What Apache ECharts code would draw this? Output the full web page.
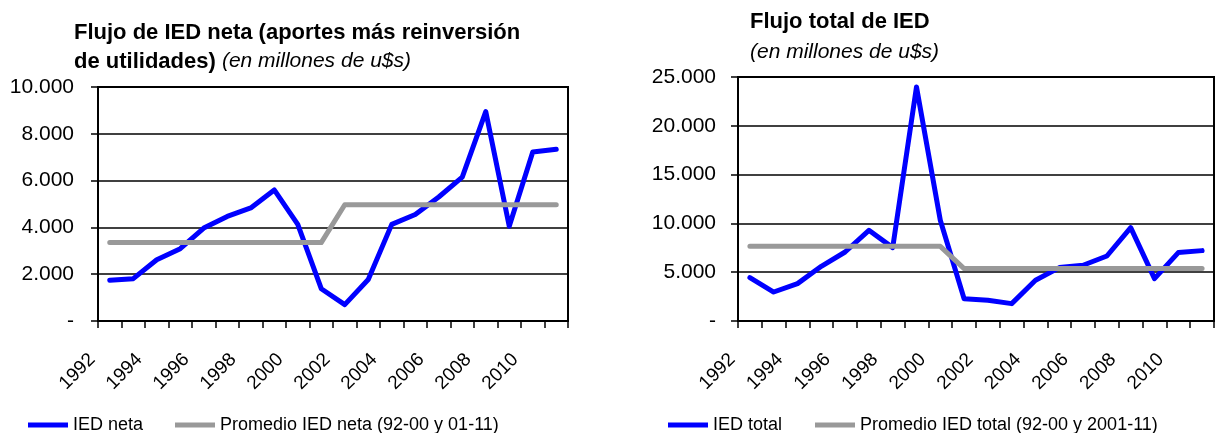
<!DOCTYPE html>
<html>
<head>
<meta charset="utf-8">
<script src="https://cdn.jsdelivr.net/npm/echarts@6/dist/echarts.min.js"></script>
<style>
  html, body { margin: 0; padding: 0; background: #fff; }
  #main { width: 1221px; height: 433px; }
</style>
</head>
<body>
<div id="main"></div>
<script>
// años (categorías) y valores, en millones de u$s
var years = ["1992", "1993", "1994", "1995", "1996", "1997", "1998", "1999", "2000", "2001",
             "2002", "2003", "2004", "2005", "2006", "2007", "2008", "2009", "2010", "2011"];
var iedNeta = [1740, 1810, 2620, 3090, 3970, 4470, 4830, 5600, 4130, 1380,
               700, 1770, 4130, 4550, 5300, 6150, 8950, 4050, 7220, 7340];
var promNeta = [3350, 3350, 3350, 3350, 3350, 3350, 3350, 3350, 3350, 3350,
                4970, 4970, 4970, 4970, 4970, 4970, 4970, 4970, 4970, 4970];
var iedTotal = [4450, 2970, 3830, 5600, 7070, 9290, 7520, 23980, 10320, 2290,
                2120, 1780, 4170, 5470, 5710, 6660, 9570, 4340, 7010, 7210];
var promTotal = [7650, 7650, 7650, 7650, 7650, 7650, 7650, 7650, 7650, 5370,
                 5370, 5370, 5370, 5370, 5370, 5370, 5370, 5370, 5370, 5370];
var seriesNames = ["IED neta", "Promedio IED neta (92-00 y 01-11)", "IED total", "Promedio IED total (92-00 y 2001-11)"];

var FONT = "'Liberation Sans', Arial, sans-serif";
var BLUE = "#0000FF";
var GRAY = "#999999";

// las etiquetas de año van en el borde izquierdo de cada categoría
var labelSlots = years.concat([""]);

function fmt(v) {
  if (v === 0) return "-";
  return String(v).replace(/\B(?=(\d{3})+(?!\d))/g, ".");
}

function dataAxis(gi) {
  return {
    type: "category",
    gridIndex: gi,
    data: years,
    boundaryGap: true,
    axisLine: { lineStyle: { color: "#000", width: 2 } },
    axisTick: { show: true, interval: 0, length: 7, lineStyle: { color: "#000", width: 1.5 } },
    axisLabel: { show: false },
    splitLine: { show: false }
  };
}

function labelAxis(gi) {
  return {
    type: "category",
    gridIndex: gi,
    data: labelSlots,
    boundaryGap: false,
    position: "bottom",
    axisLine: { show: false },
    axisTick: { show: false },
    splitLine: { show: false },
    axisLabel: {
      interval: function(i) {
        return i % 2 === 0 && i < 20;
      },
      rotate: 45,
      margin: 30,
      padding: [0, 8, 0, 0],
      color: "#000",
      fontSize: 19,
      fontFamily: FONT
    }
  };
}

function valueAxis(gi, max, step, margin) {
  return {
    type: "value",
    gridIndex: gi,
    min: 0,
    max: max,
    interval: step,
    axisLine: { show: true, lineStyle: { color: "#000", width: 2 } },
    axisTick: { show: true, length: 7, lineStyle: { color: "#000", width: 1.5 } },
    axisLabel: { color: "#000", fontSize: 21, fontFamily: FONT, margin: margin, formatter: fmt },
    splitLine: { show: true, lineStyle: { color: "#000", width: 1.5 } }
  };
}

function lineSeries(name, xi, yi, data, color) {
  return {
    name: name,
    type: "line",
    xAxisIndex: xi,
    yAxisIndex: yi,
    data: data,
    symbol: "none",
    smooth: false,
    lineStyle: { color: color, width: 5, cap: "round", join: "round" },
    itemStyle: { color: color }
  };
}

function legendItem(name, left) {
  return {
    data: [name],
    left: left,
    top: 416,
    padding: 0,
    icon: "rect",
    itemWidth: 40,
    itemHeight: 5,
    selectedMode: false,
    textStyle: { color: "#000", fontSize: 18, fontFamily: FONT }
  };
}

var myChart = echarts.init(document.getElementById("main"));
var option = {
  animation: false,
  backgroundColor: "#fff",
  title: [
    {
      text: "{b|Flujo de IED neta (aportes más reinversión}\n{b|de utilidades)} {i|(en millones de u$s)}",
      left: 74,
      top: 18,
      padding: 0,
      textStyle: {
        fontSize: 22,
        fontWeight: "bold",
        fontFamily: FONT,
        color: "#000",
        lineHeight: 29,
        rich: {
          b: { fontSize: 22, fontWeight: "bold", fontFamily: FONT, color: "#000", lineHeight: 29 },
          i: { fontSize: 21, fontWeight: "normal", fontStyle: "italic", fontFamily: FONT, color: "#000", lineHeight: 29 }
        }
      }
    },
    {
      text: "{b|Flujo total de IED}\n{i|(en millones de u$s)}",
      left: 750,
      top: 7,
      padding: 0,
      textStyle: {
        fontSize: 22,
        fontWeight: "normal",
        fontFamily: FONT,
        color: "#000",
        lineHeight: 30,
        rich: {
          b: { fontSize: 22, fontWeight: "bold", fontFamily: FONT, color: "#000", lineHeight: 30 },
          i: { fontSize: 21, fontWeight: "normal", fontStyle: "italic", fontFamily: FONT, color: "#000", lineHeight: 30 }
        }
      }
    }
  ],
  legend: [
    legendItem(seriesNames[0], 28),
    legendItem(seriesNames[1], 175),
    legendItem(seriesNames[2], 668),
    legendItem(seriesNames[3], 815)
  ],
  grid: [
    { left: 98, top: 87, width: 470, height: 234, show: true, borderColor: "#000", borderWidth: 2, outerBoundsMode: "none" },
    { left: 738, top: 77, width: 476, height: 244, show: true, borderColor: "#000", borderWidth: 2, outerBoundsMode: "none" }
  ],
  xAxis: [dataAxis(0), labelAxis(0), dataAxis(1), labelAxis(1)],
  yAxis: [valueAxis(0, 10000, 2000, 24), valueAxis(1, 25000, 5000, 22)],
  series: [
    lineSeries(seriesNames[0], 0, 0, iedNeta, BLUE),
    lineSeries(seriesNames[1], 0, 0, promNeta, GRAY),
    lineSeries(seriesNames[2], 2, 1, iedTotal, BLUE),
    lineSeries(seriesNames[3], 2, 1, promTotal, GRAY)
  ]
};
myChart.setOption(option);
</script>
</body>
</html>
